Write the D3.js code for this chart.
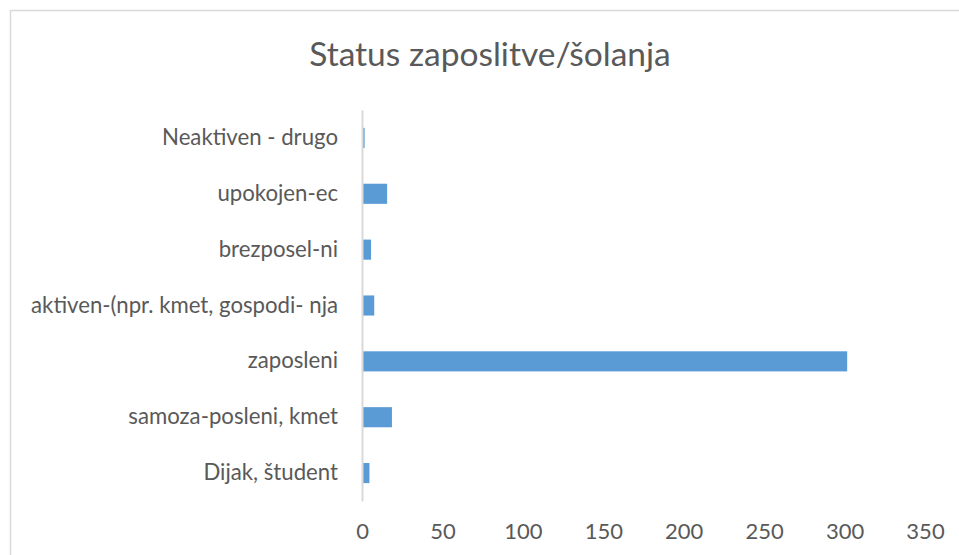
<!DOCTYPE html>
<html>
<head>
<meta charset="utf-8">
<script src="https://cdn.jsdelivr.net/npm/d3@7"></script>
<style>
  body { margin: 0; background: #fff; }
  text { font-family: Lato, "Open Sans", sans-serif; fill: #595959; }
</style>
</head>
<body>
<div id="chart"></div>
<script>
var width = 959,
  height = 555,
  margin = {top: 110, right: 34, bottom: 54, left: 362};

// od zgoraj navzdol, kot v grafu
var data = [
  {name: "Neaktiven - drugo", value: 1},
  {name: "upokojen-ec", value: 15},
  {name: "brezposel-ni", value: 5},
  {name: "aktiven-(npr. kmet, gospodi- nja", value: 7},
  {name: "zaposleni", value: 301},
  {name: "samoza-posleni, kmet", value: 18},
  {name: "Dijak, študent", value: 4}
]

var svg = d3.select("#chart").append("svg")
  .attr("width", width)
  .attr("height", height)

svg.append("rect")
  .attr("x", 10.5)
  .attr("y", 10.5)
  .attr("width", width + 10)
  .attr("height", height + 10)
  .attr("fill", "#fff")
  .attr("stroke", "#d9d9d9")
  .attr("stroke-width", 1.5)

svg.append("text")
  .attr("x", 490)
  .attr("y", 66)
  .attr("text-anchor", "middle")
  .style("font-size", "33.5px")
  .text("Status zaposlitve/šolanja")

var x = d3.scaleLinear()
  .domain([0, 350])
  .range([margin.left, width - margin.right])

var y = d3.scaleBand()
  .domain(data.map(d => d.name))
  .range([margin.top, height - margin.bottom])
  .paddingInner(0.64)
  .paddingOuter(0.32)

svg.append("g")
  .selectAll("rect")
  .data(data)
  .enter().append("rect")
    .attr("x", x(0) + 1)
    .attr("y", d => y(d.name))
    .attr("width", d => x(d.value) - x(0))
    .attr("height", y.bandwidth())
    .attr("fill", "#5b9bd5")

// os x: samo oznake, brez črt
var xAxis = svg.append("g")
  .attr("transform", "translate(0," + (height - 16) + ")")
  .call(d3.axisBottom(x).tickValues(d3.range(0, 351, 50)).tickSize(0).tickPadding(0))
xAxis.select(".domain").remove()
xAxis.selectAll("text")
  .attr("dy", 0)
  .style("font-size", "22px")
  .style("fill", "#595959")
  .style("font-family", "Lato, sans-serif")

// os y
var yAxis = svg.append("g")
  .attr("transform", "translate(" + x(0) + ",0)")
  .call(d3.axisLeft(y).tickSize(0).tickPadding(24))
yAxis.select(".domain")
  .attr("stroke", "#d9d9d9")
  .attr("stroke-width", 2)
yAxis.selectAll("text")
  .style("font-size", "22.2px")
  .style("fill", "#595959")
  .style("font-family", "Lato, sans-serif")
</script>
</body>
</html>
